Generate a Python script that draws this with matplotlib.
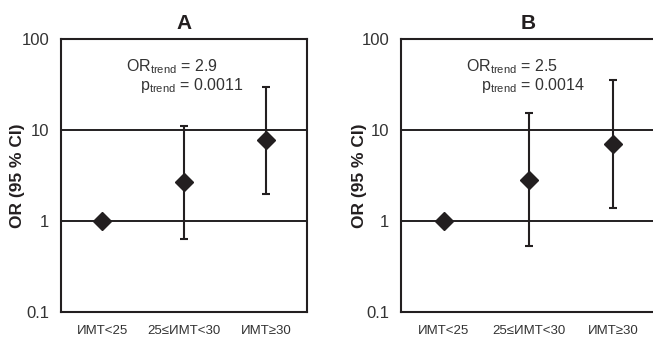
import matplotlib
matplotlib.use("Agg")
import matplotlib.pyplot as plt
import numpy as np

plt.rcParams['font.family'] = ['Liberation Sans', 'DejaVu Sans']
plt.rcParams['mathtext.fontset'] = 'custom'
plt.rcParams['mathtext.rm'] = 'Liberation Sans'
plt.rcParams['mathtext.it'] = 'Liberation Sans'
plt.rcParams['mathtext.default'] = 'rm'

categories = ['ИМТ<25', '25≤ИМТ<30', 'ИМТ≥30']
yticks = [0.1, 1, 10, 100]
ytick_labels = ['0.1', '1', '10', '100']

or_a = [1.0, 2.68, 7.8]
low_a = [1.0, 0.64, 2.0]
high_a = [1.0, 11.0, 30.0]
or_trend_a = '2.9'
p_trend_a = '0.0011'

or_b = [1.0, 2.8, 7.1]
low_b = [1.0, 0.53, 1.4]
high_b = [1.0, 15.4, 35.5]
or_trend_b = '2.5'
p_trend_b = '0.0014'

ink = '#231f20'
txt = '#333333'

fig = plt.figure(figsize=(6.53, 3.41), dpi=100)
W, H = 653, 341
ax_a = fig.add_axes([61 / W, 1 - 312 / H, 246 / W, 273 / H])
ax_b = fig.add_axes([401 / W, 1 - 312 / H, 255 / W, 273 / H])

panels = [
    (ax_a, 'A', or_a, low_a, high_a, or_trend_a, p_trend_a, (0.264, 0.897), (0.321, 0.828), -0.148),
    (ax_b, 'B', or_b, low_b, high_b, or_trend_b, p_trend_b, (0.255, 0.897), (0.312, 0.828), -0.135),
]

for ax, title, vals, lo, hi, ort, pt, pos1, pos2, lx in panels:
    x = np.arange(len(categories))
    vals = np.array(vals)
    yerr = np.vstack([vals - np.array(lo), np.array(hi) - vals])
    ax.set_yscale('log')
    ax.set_ylim(0.1, 100)
    ax.set_xlim(-0.5, 2.5)
    for g in [1, 10]:
        ax.axhline(g, color=ink, lw=1.4, zorder=1)
    ax.errorbar(x, vals, yerr=yerr, fmt='D', color=ink, ms=9, ecolor=ink,
                elinewidth=1.5, capsize=3, capthick=1.5, zorder=3)
    ax.set_xticks(x)
    ax.set_xticklabels(categories, fontsize=9.5, color=txt)
    ax.set_yticks(yticks)
    ax.set_yticklabels(ytick_labels, fontsize=12, color=txt)
    ax.yaxis.set_minor_locator(matplotlib.ticker.NullLocator())
    ax.tick_params(axis='both', length=0)
    ax.tick_params(axis='x', pad=9)
    ax.tick_params(axis='y', pad=8.5)
    for s in ax.spines.values():
        s.set_color(ink)
        s.set_linewidth(1.5)
    ax.set_title(title, fontsize=15, fontweight='bold', color=ink, pad=7)
    ax.set_ylabel('OR (95 % CI)', fontsize=12.5, fontweight='bold', color=ink)
    ax.yaxis.set_label_coords(lx, 0.5)
    ax.text(pos1[0], pos1[1], r'OR$_{\mathrm{trend}}$ = ' + ort, transform=ax.transAxes,
            fontsize=11.5, color=txt, ha='left', va='center')
    ax.text(pos2[0], pos2[1], r'p$_{\mathrm{trend}}$ = ' + pt, transform=ax.transAxes,
            fontsize=11.5, color=txt, ha='left', va='center')

fig.savefig('out.png', dpi=100)
